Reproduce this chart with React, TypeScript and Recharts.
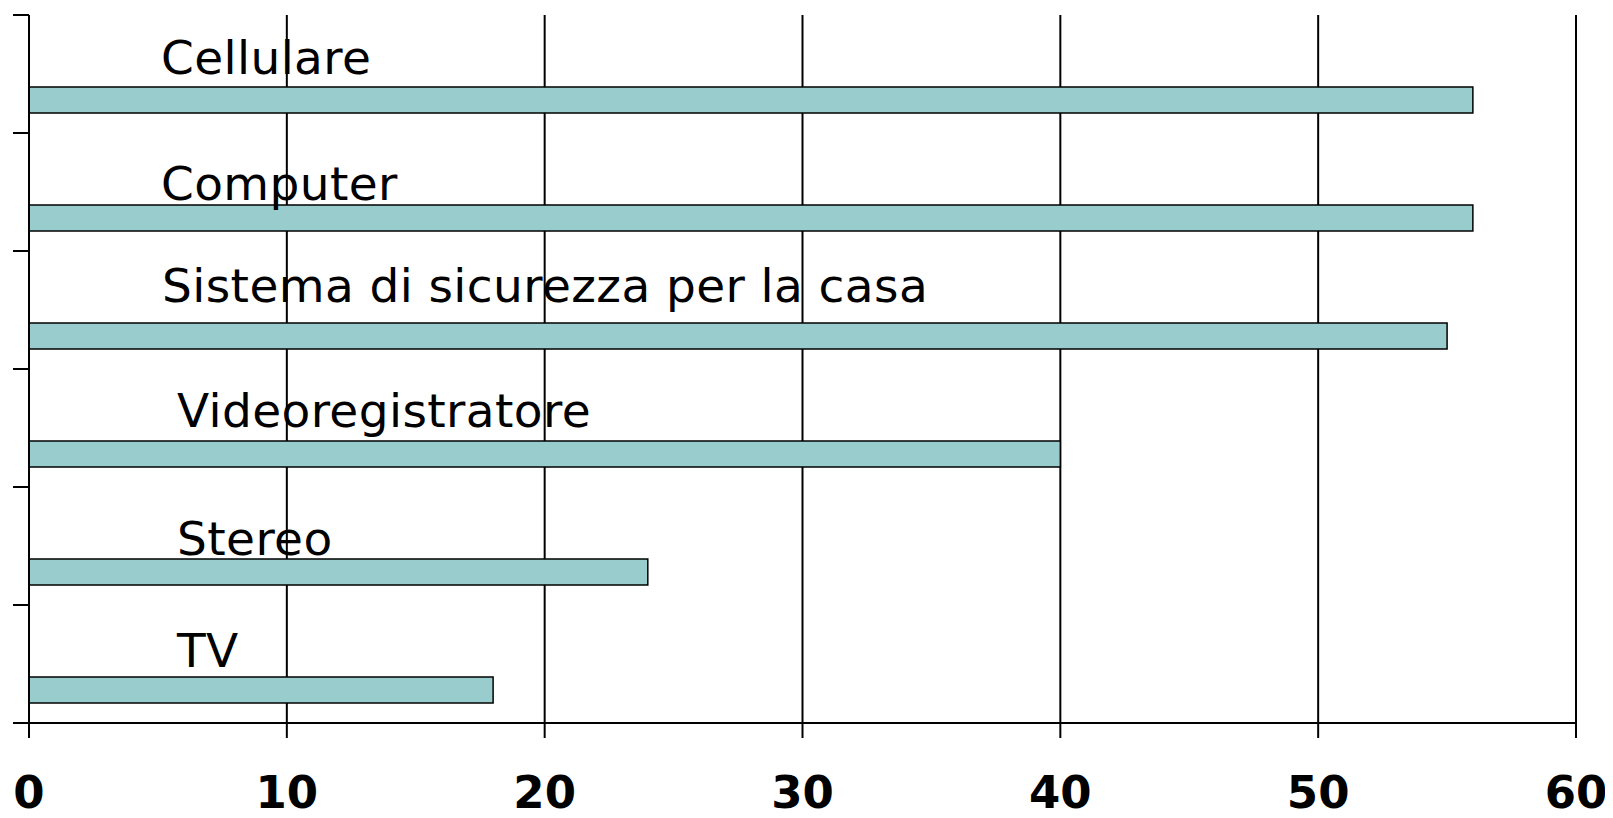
import { BarChart, Bar, XAxis, YAxis, CartesianGrid } from 'recharts'

// Categories top to bottom, value = percentage
const categories = ['Cellulare', 'Computer', 'Sistema di sicurezza per la casa', 'Videoregistratore', 'Stereo', 'TV']
const values = [56, 56, 55, 40, 24, 18]
const xTicks = [0, 10, 20, 30, 40, 50, 60]

const data = categories.map((name, i) => ({ name, value: values[i] }))

const W = 1600
const H = 810
const MARGIN = { top: 7, right: 32, bottom: 0, left: 5 }
const X_AXIS_H = 95
const BAND = (H - MARGIN.top - MARGIN.bottom - X_AXIS_H) / categories.length

// the labels in the original are loose text boxes, not quite aligned
const LABEL_NUDGE = [
  { dx: 132, dy: -13 },
  { dx: 132, dy: -5 },
  { dx: 133, dy: -21 },
  { dx: 148, dy: -14 },
  { dx: 148, dy: -4 },
  { dx: 148, dy: -10 },
]

function BarWithLabel(props: any) {
  const { x, y, width, height, index, payload } = props
  const top = y + 26 // bar sits in the lower part of its band
  const n = LABEL_NUDGE[index] || { dx: 132, dy: -10 }
  return (
    <g>
      <rect x={x} y={top} width={width} height={height} fill="#99cccc" stroke="#000" strokeWidth={1.5} />
      <text x={x + n.dx} y={top + n.dy} fontSize={47} letterSpacing={0.4} fill="#000" fontFamily="DejaVu Sans">
        {payload.name}
      </text>
    </g>
  )
}

function BandTick(props: any) {
  const { x, y, index } = props
  const y0 = y - BAND / 2
  return (
    <g>
      <line x1={x - 16} x2={x} y1={y0} y2={y0} stroke="#000" strokeWidth={2} />
      {index === categories.length - 1 && (
        <line x1={x - 16} x2={x} y1={y + BAND / 2} y2={y + BAND / 2} stroke="#000" strokeWidth={2} />
      )}
    </g>
  )
}

export default function App() {
  return (
    <div style={{ width: W, height: H, fontFamily: 'DejaVu Sans', background: '#fff' }}>
      <BarChart width={W} height={H} data={data} layout="vertical" margin={MARGIN} style={{ overflow: 'visible' }}>
        <CartesianGrid horizontal={false} stroke="#000" strokeWidth={2} />
        <XAxis
          type="number" domain={[0, 60]} ticks={xTicks} interval={0}
          height={X_AXIS_H} tickSize={15} tickMargin={38}
          axisLine={{ stroke: '#000', strokeWidth: 2 }}
          tickLine={{ stroke: '#000', strokeWidth: 2 }}
          tick={{ fill: '#000', fontSize: 45, fontWeight: 'bold', fontFamily: 'DejaVu Sans' }}
        />
        <YAxis
          type="category" dataKey="name" width={16}
          tickSize={0} tickMargin={0} tickLine={false}
          axisLine={{ stroke: '#000', strokeWidth: 2 }}
          tick={<BandTick />}
        />
        <Bar dataKey="value" barSize={26} shape={<BarWithLabel />} isAnimationActive={false} />
      </BarChart>
    </div>
  )
}
